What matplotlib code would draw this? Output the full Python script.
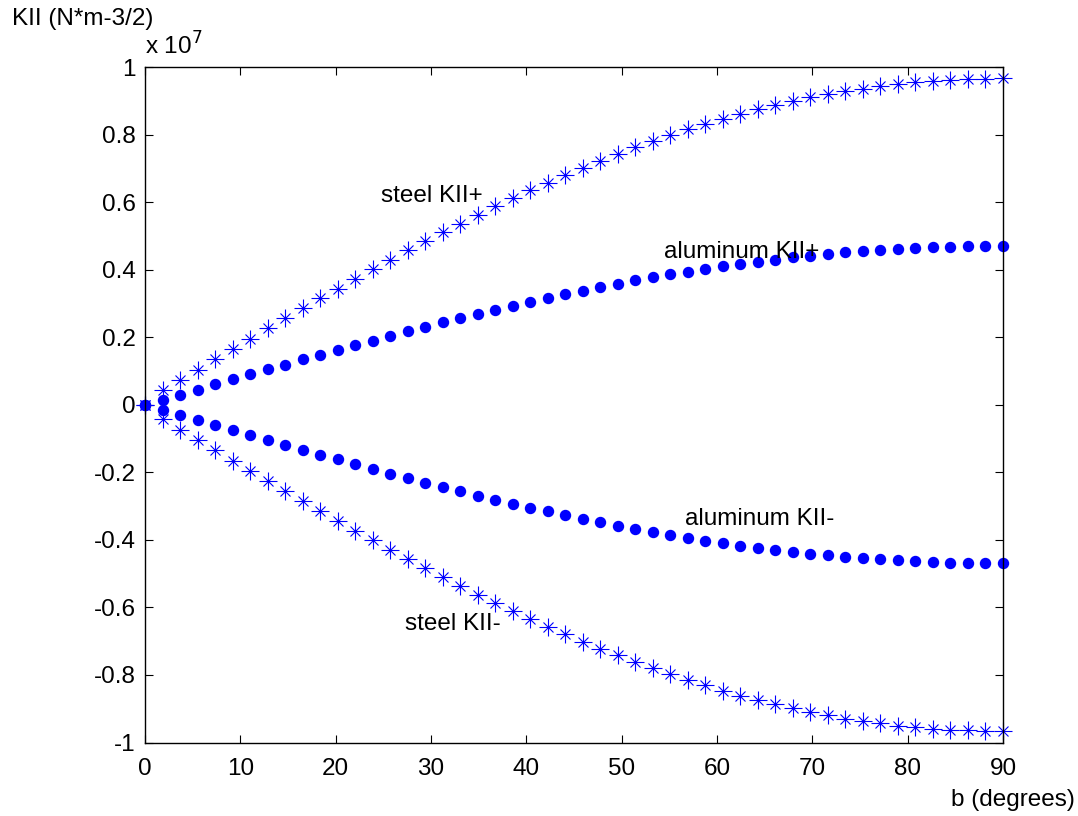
import matplotlib
matplotlib.use("Agg")
import matplotlib.pyplot as plt

plt.rcParams['font.family'] = ['Liberation Sans', 'DejaVu Sans']

# 50 angles, 0..90 degrees
b_deg = [0.0, 1.837, 3.673, 5.510, 7.347, 9.184, 11.020, 12.857, 14.694, 16.531,
         18.367, 20.204, 22.041, 23.878, 25.714, 27.551, 29.388, 31.224, 33.061, 34.898,
         36.735, 38.571, 40.408, 42.245, 44.082, 45.918, 47.755, 49.592, 51.429, 53.265,
         55.102, 56.939, 58.776, 60.612, 62.449, 64.286, 66.122, 67.959, 69.796, 71.633,
         73.469, 75.306, 77.143, 78.980, 80.816, 82.653, 84.490, 86.327, 88.163, 90.0]

# values in units of 1e7 N*m^-3/2
steel_plus = [0.0, 0.043, 0.074, 0.104, 0.135, 0.166, 0.196, 0.226, 0.256, 0.286,
              0.315, 0.344, 0.373, 0.401, 0.429, 0.457, 0.484, 0.510, 0.536, 0.562,
              0.587, 0.611, 0.635, 0.658, 0.680, 0.701, 0.722, 0.742, 0.762, 0.780,
              0.798, 0.815, 0.831, 0.847, 0.861, 0.875, 0.887, 0.899, 0.910, 0.920,
              0.929, 0.936, 0.943, 0.950, 0.955, 0.959, 0.962, 0.964, 0.965, 0.966]
steel_minus = [-v for v in steel_plus]
alu_plus = [0.0, 0.015, 0.030, 0.045, 0.060, 0.075, 0.090, 0.105, 0.119, 0.134,
            0.148, 0.162, 0.176, 0.190, 0.204, 0.217, 0.231, 0.244, 0.256, 0.269,
            0.281, 0.293, 0.305, 0.316, 0.327, 0.338, 0.348, 0.358, 0.368, 0.377,
            0.386, 0.394, 0.402, 0.410, 0.417, 0.424, 0.430, 0.436, 0.441, 0.446,
            0.451, 0.455, 0.458, 0.461, 0.464, 0.466, 0.468, 0.469, 0.470, 0.470]
alu_minus = [-v for v in alu_plus]

x_ticks = [0, 10, 20, 30, 40, 50, 60, 70, 80, 90]
y_ticks = [-1, -0.8, -0.6, -0.4, -0.2, 0, 0.2, 0.4, 0.6, 0.8, 1]
y_tick_labels = ['-1', '-0.8', '-0.6', '-0.4', '-0.2', '0', '0.2', '0.4', '0.6', '0.8', '1']

blue = '#0000ff'
fig = plt.figure(figsize=(10.78, 8.16), dpi=100)
ax = fig.add_axes([145/1078, (816-742.5)/816, (1003-145)/1078, (742.5-67)/816])

for series in (steel_plus, steel_minus):
    ax.plot(b_deg, series, linestyle='none', marker='+', ms=12.5, mew=0.8, color=blue, clip_on=False)
    ax.plot(b_deg, series, linestyle='none', marker='x', ms=7.5, mew=0.8, color=blue, clip_on=False)
for series in (alu_plus, alu_minus):
    ax.plot(b_deg, series, linestyle='none', marker='o', ms=7.2, color=blue, mec=blue, clip_on=False)

ax.set_xlim(0, 90)
ax.set_ylim(-1, 1)
ax.set_xticks(x_ticks)
ax.set_xticklabels([str(t) for t in x_ticks])
ax.set_yticks(y_ticks)
ax.set_yticklabels(y_tick_labels)
ax.tick_params(direction='in', top=True, right=True, length=6, width=0.8, labelsize=17.5)
ax.tick_params(axis='x', pad=11.5)
ax.tick_params(axis='y', pad=6.5)
for s in ax.spines.values():
    s.set_linewidth(1.0)

fs = 17.5
ax.text(24.8, 0.617, 'steel KII+', fontsize=fs, va='center', ha='left')
ax.text(54.4, 0.453, 'aluminum KII+', fontsize=fs, va='center', ha='left')
ax.text(56.6, -0.337, 'aluminum KII-', fontsize=fs, va='center', ha='left')
ax.text(27.3, -0.649, 'steel KII-', fontsize=fs, va='center', ha='left')

fig.text(12/1078, 1 - 19/816, 'KII (N*m-3/2)', fontsize=fs, ha='left', va='center')
fig.text(145/1078, 1 - 46/816, r'x 10$^{7}$', fontsize=fs, ha='left', va='center')
fig.text(1075/1078, 1 - 800/816, 'b (degrees)', fontsize=fs, ha='right', va='center')

fig.savefig('out.png', dpi=100)
